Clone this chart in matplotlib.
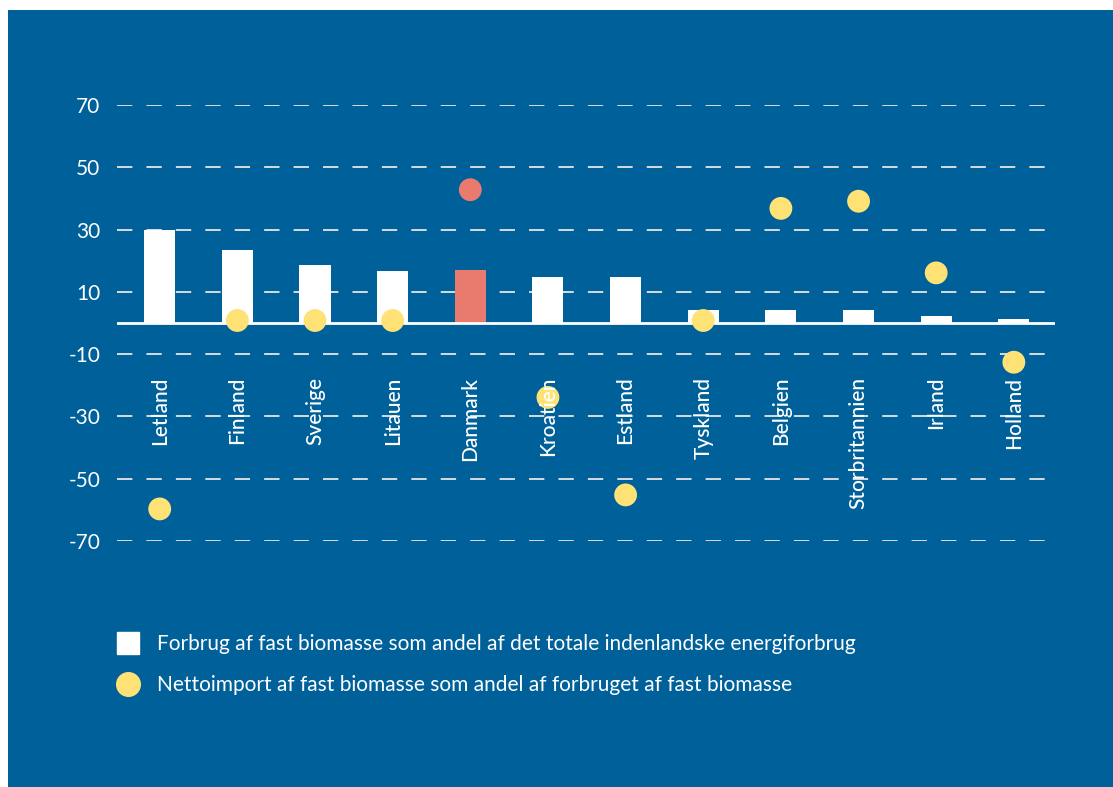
import matplotlib.pyplot as plt
from matplotlib.lines import Line2D
from matplotlib.patches import Rectangle

# Fast biomasse: forbrug og nettoimport, pct.
lande = ["Letland", "Finland", "Sverige", "Litauen", "Danmark", "Kroatien",
         "Estland", "Tyskland", "Belgien", "Storbritannien", "Irland", "Holland"]
forbrug = [30, 23.5, 18.7, 16.8, 17.1, 14.8, 14.8, 4.2, 4.2, 4.2, 2.3, 1.3]
nettoimport = [-59.7, 0.8, 0.8, 0.8, 42.8, -23.9, -55.2, 0.8, 36.8, 39.1, 16.1, -12.6]
y_ticks = [70, 50, 30, 10, -10, -30, -50, -70]

legend_labels = [
    "Forbrug af fast biomasse som andel af det totale indenlandske energiforbrug",
    "Nettoimport af fast biomasse som andel af forbruget af fast biomasse",
]

blue = "#00609A"
yellow = "#FFE275"
salmon = "#E97B6E"

plt.rcParams['font.family'] = ['Lato', 'DejaVu Sans']

fig = plt.figure(figsize=(11.13, 7.87), dpi=100, facecolor="white")
# blue panel behind everything
fig.patches.append(Rectangle((8 / 1113, 0), 1, 1 - 10 / 787, transform=fig.transFigure,
                             facecolor=blue, edgecolor="none", zorder=-1))

ax = fig.add_axes([117 / 1113, 1 - 541 / 787, (1055 - 117) / 1113, (541 - 105) / 787])
ax.set_facecolor("none")
ax.set_zorder(1)

x = list(range(len(lande)))
bar_colors = [salmon if l == "Danmark" else "white" for l in lande]
dot_colors = [salmon if l == "Danmark" else yellow for l in lande]

for yt in y_ticks:
    ax.axhline(yt, color="#e6e6e6", lw=1.3, linestyle=(0, (8.5, 7.8)), zorder=1)
ax.axhline(0, color="white", lw=2, zorder=2.5)

ax.bar(x, forbrug, width=0.4, color=bar_colors, zorder=2)
ax.scatter(x, nettoimport, s=270, color=dot_colors, zorder=3, linewidths=0)

for xi, l in zip(x, lande):
    ax.text(xi, -17.2, l, rotation=90, ha="center", va="top", color="white",
            fontsize=15, fontweight="medium", zorder=4)

ax.set_xlim(-0.55, 11.53)
ax.set_ylim(-70, 70)
ax.set_yticks(y_ticks)
ax.set_yticklabels([str(v) for v in y_ticks])
ax.tick_params(axis="y", length=0, pad=12, labelcolor="white", labelsize=15)
ax.set_xticks([])
for s in ax.spines.values():
    s.set_visible(False)

handles = [
    Line2D([], [], marker="s", linestyle="none", markersize=16, color="white"),
    Line2D([], [], marker="o", linestyle="none", markersize=17, color=yellow),
]
fig.legend(handles, legend_labels, loc="upper left",
           bbox_to_anchor=(117 / 1113, 1 - 634 / 787), frameon=False,
           fontsize=15, labelcolor="white", handlelength=1.1,
           handletextpad=0.8, labelspacing=1.0, borderpad=0, borderaxespad=0)

fig.savefig("out.png", dpi=100, facecolor="white")
